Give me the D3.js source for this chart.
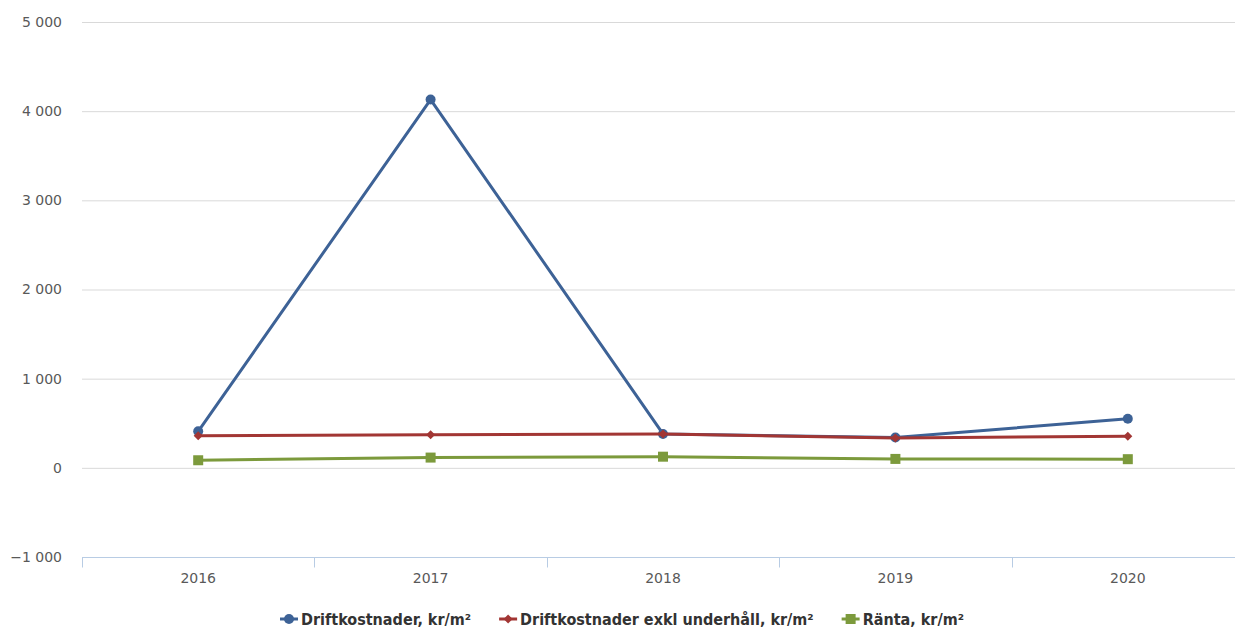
<!DOCTYPE html>
<html>
<head>
<meta charset="utf-8">
<script src="https://cdn.jsdelivr.net/npm/d3@7"></script>
<style>
body{margin:0;background:#fff;}
svg{display:block;}
</style>
</head>
<body>
<div id="chart"></div>
<script>
var years = ['2016', '2017', '2018', '2019', '2020'];
var drift = [410, 4130, 380, 340, 550];
var driftExkl = [360, 370, 380, 335, 355];
var ranta = [85, 115, 125, 100, 97];
var yTicks = [-1000, 0, 1000, 2000, 3000, 4000, 5000];

var series = [
    {name:'Driftkostnader, kr/m²', color:'#3d6296', values:drift, marker:'circle'},
    {name:'Driftkostnader exkl underhåll, kr/m²', color:'#a23634', values:driftExkl, marker:'diamond'},
    {name:'Ränta, kr/m²', color:'#7c9a3c', values:ranta, marker:'square'}
];

var width = 1235, height = 628;
var margin = {left:82, top:22, bottom:71};
var plotRight = 1244;

var svg = d3.select('#chart').append('svg')
    .attr('width', width)
    .attr('height', height);

var x = d3.scaleBand().domain(years).range([margin.left, plotRight]);
var y = d3.scaleLinear().domain([-1000, 5000]).range([height - margin.bottom, margin.top]);

function fmt(d){
    var s = d3.format(',')(Math.abs(d)).replace(/,/g, ' ');
    return (d < 0 ? '\u2212' : '') + s;
}

//网格
svg.append('g').selectAll('line')
    .data(yTicks.filter(function(d){ return d > -1000; }))
    .enter().append('line')
    .attr('x1', margin.left).attr('x2', width)
    .attr('y1', function(d){ return y(d) + 0.5; })
    .attr('y2', function(d){ return y(d) + 0.5; })
    .style('stroke', '#d9d9d9')
    .style('stroke-width', 1);

//y labels
svg.append('g').selectAll('text')
    .data(yTicks)
    .enter().append('text')
    .attr('x', 62)
    .attr('y', function(d){ return y(d); })
    .attr('dy', '0.35em')
    .attr('text-anchor', 'end')
    .style('font-family', '"DejaVu Sans", sans-serif')
    .style('font-size', '14px')
    .style('fill', '#595959')
    .text(fmt);

//x axis
var axisY = y(-1000) + 0.5;
var $axisX = svg.append('g');
$axisX.append('line')
    .attr('x1', margin.left).attr('x2', width)
    .attr('y1', axisY).attr('y2', axisY)
    .style('stroke', '#b8cce4');
var edges = years.map(function(d){ return x(d); }).concat([x.range()[1]]);
$axisX.selectAll('.tick')
    .data(edges)
    .enter().append('line')
    .attr('x1', function(d){ return Math.round(d) + 0.5; })
    .attr('x2', function(d){ return Math.round(d) + 0.5; })
    .attr('y1', axisY).attr('y2', axisY + 10)
    .style('stroke', '#b8cce4');
$axisX.selectAll('text')
    .data(years)
    .enter().append('text')
    .attr('x', function(d){ return x(d) + x.bandwidth()/2; })
    .attr('y', axisY + 21)
    .attr('dy', '0.35em')
    .attr('text-anchor', 'middle')
    .style('font-family', '"DejaVu Sans", sans-serif')
    .style('font-size', '14px')
    .style('fill', '#595959')
    .text(function(d){ return d; });

var cx = function(i){ return x(years[i]) + x.bandwidth()/2; };
var line = d3.line()
    .x(function(d, i){ return cx(i); })
    .y(function(d){ return y(d); });

function drawMarker(g, type, color, px, py){
    if(type === 'circle'){
        g.append('circle').attr('cx', px).attr('cy', py).attr('r', 5).style('fill', color);
    }else if(type === 'diamond'){
        g.append('path')
            .attr('d', 'M' + px + ',' + (py - 4.5) + 'L' + (px + 4.5) + ',' + py + 'L' + px + ',' + (py + 4.5) + 'L' + (px - 4.5) + ',' + py + 'Z')
            .style('fill', color);
    }else{
        g.append('rect').attr('x', px - 5).attr('y', py - 5).attr('width', 10).attr('height', 10).style('fill', color);
    }
}

//画线: green, blue, red on top
var order = [2, 0, 1];
order.forEach(function(k){
    var s = series[k];
    var g = svg.append('g');
    g.append('path')
        .datum(s.values)
        .attr('d', line)
        .style('fill', 'none')
        .style('stroke', s.color)
        .style('stroke-width', 3)
        .style('stroke-linejoin', 'round');
    s.values.forEach(function(v, i){
        drawMarker(g, s.marker, s.color, cx(i), y(v));
    });
});

//图例
var legend = svg.append('g');
var lx = 280;
var legendY = 619;
series.forEach(function(s){
    var g = legend.append('g').attr('transform', 'translate(' + lx + ',0)');
    g.append('line')
        .attr('x1', 0).attr('x2', 18)
        .attr('y1', legendY).attr('y2', legendY)
        .style('stroke', s.color).style('stroke-width', 3);
    drawMarker(g, s.marker, s.color, 9, legendY);
    var t = g.append('text')
        .attr('x', 21)
        .attr('y', legendY)
        .attr('dy', '0.35em')
        .style('font-family', '"DejaVu Sans Condensed", "DejaVu Sans", sans-serif')
        .style('font-size', '16px')
        .style('font-weight', 'bold')
        .style('fill', '#333')
        .text(s.name);
    lx += 21 + t.node().getComputedTextLength() + 28;
});
</script>
</body>
</html>
